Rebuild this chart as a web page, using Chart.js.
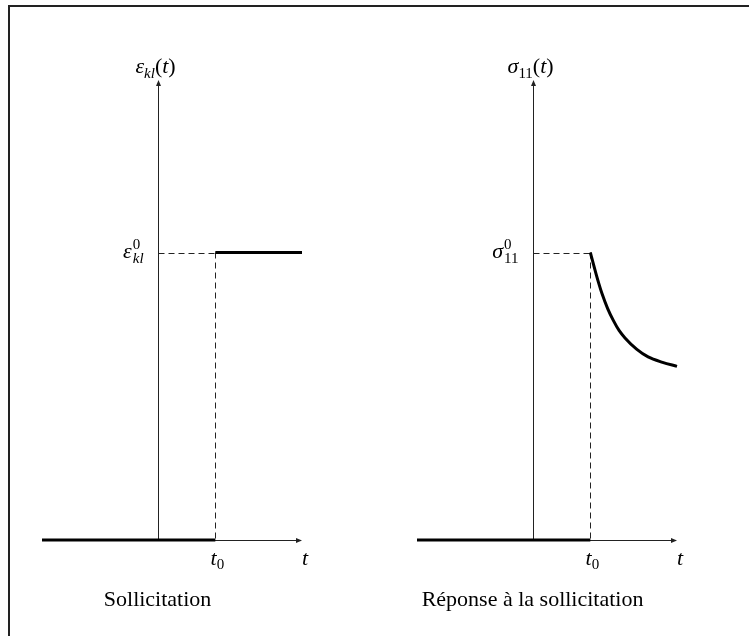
<!DOCTYPE html>
<html lang="fr">

<head>
    <meta charset="UTF-8">
    <title>Sollicitation et réponse</title>
    <script src="https://cdn.jsdelivr.net/npm/chart.js@4.4.1/dist/chart.umd.min.js"></script>
    <style>
        body { margin: 0; background: #fff; }
        #frame { position: absolute; left: 8px; top: 5px; width: 760px; height: 660px;
                 border-top: 2px solid #222; border-left: 2px solid #222; }
        canvas { position: absolute; left: 0; top: 0; }
    </style>
</head>

<body>
    <div id="frame"></div>
    <canvas id="left" width="749" height="636"></canvas>
    <canvas id="right" width="749" height="636"></canvas>
    <script>

        // axis ranges (time, response), t0 = 1
        const axisT = [-2, 2.5];
        const axisY = [0, 1.6];
        const t0 = 1;

        // sollicitation: step in strain
        const strainBeforeT = [-2, 1];
        const strainBeforeY = [0, 0];
        const strainAfterT = [1, 2.5];
        const strainAfterY = [1, 1];

        // response: stress relaxation
        const stressBeforeT = [-2, 1];
        const stressBeforeY = [0, 0];
        const stressAfterT = [1.0, 1.05, 1.1, 1.15, 1.2, 1.3, 1.4, 1.5, 1.6, 1.8, 2.0, 2.25, 2.5];
        const stressAfterY = [1.0, 0.962, 0.925, 0.89, 0.858, 0.805, 0.763, 0.728, 0.703, 0.664, 0.637, 0.618, 0.604];

        const SERIF = '"Liberation Serif", "Times New Roman", serif';

        function pts(xs, ys) {
            return xs.map((x, i) => ({ x: x, y: ys[i] }));
        }

        function font(it, size) {
            return (it ? 'italic ' : '') + size + 'px ' + SERIF;
        }

        // parts: {t, it, size, dy} or {sup, sub}
        function drawMath(ctx, parts, x, y, align) {
            let widths = parts.map(p => {
                if (p.sup !== undefined) {
                    ctx.font = font(false, 15);
                    let a = ctx.measureText(p.sup).width;
                    ctx.font = font(p.subIt, 15);
                    let b = ctx.measureText(p.sub).width;
                    return Math.max(a, b) + 1;
                }
                ctx.font = font(p.it, p.size);
                return ctx.measureText(p.t).width;
            });
            let total = widths.reduce((a, b) => a + b, 0);
            let cx = align === 'center' ? x - total / 2 : align === 'right' ? x - total : x;
            ctx.fillStyle = '#000';
            ctx.textAlign = 'left';
            ctx.textBaseline = 'alphabetic';
            parts.forEach((p, i) => {
                if (p.sup !== undefined) {
                    ctx.font = font(false, 15);
                    ctx.fillText(p.sup, cx + 1, y - 9);
                    ctx.font = font(p.subIt, 15);
                    ctx.fillText(p.sub, cx + 1, y + 5);
                } else {
                    ctx.font = font(p.it, p.size);
                    ctx.fillText(p.t, cx, y + (p.dy || 0));
                }
                cx += widths[i];
            });
        }

        function arrow(ctx, x, y, dir) {
            ctx.beginPath();
            if (dir === 'right') {
                ctx.moveTo(x, y);
                ctx.lineTo(x - 6, y - 2.5);
                ctx.lineTo(x - 6, y + 2.5);
            } else {
                ctx.moveTo(x, y);
                ctx.lineTo(x - 2.5, y + 6);
                ctx.lineTo(x + 2.5, y + 6);
            }
            ctx.closePath();
            ctx.fill();
        }

        const diagramPlugin = {
            id: 'diagram',
            beforeDatasetsDraw(chart) {
                const ctx = chart.ctx;
                const xs = chart.scales.x, ys = chart.scales.y;
                const x0 = xs.getPixelForValue(0), x1 = xs.getPixelForValue(t0);
                const xa = xs.getPixelForValue(axisT[0]), xb = xs.getPixelForValue(axisT[1]);
                const y0 = ys.getPixelForValue(0), y1 = ys.getPixelForValue(1);
                const yTop = ys.getPixelForValue(axisY[1]);
                ctx.save();
                ctx.strokeStyle = '#222';
                ctx.fillStyle = '#222';
                ctx.lineWidth = 1;
                // axes
                ctx.beginPath();
                ctx.moveTo(xa, Math.round(y0) + 0.5);
                ctx.lineTo(xb - 2, Math.round(y0) + 0.5);
                ctx.moveTo(Math.round(x0) + 0.5, y0);
                ctx.lineTo(Math.round(x0) + 0.5, yTop + 2);
                ctx.stroke();
                arrow(ctx, xb, Math.round(y0) + 0.5, 'right');
                arrow(ctx, Math.round(x0) + 0.5, yTop, 'up');
                // dashed guides
                ctx.setLineDash([6, 4]);
                ctx.beginPath();
                ctx.moveTo(Math.round(x0) + 0.5, Math.round(y1) + 0.5);
                ctx.lineTo(x1, Math.round(y1) + 0.5);
                ctx.moveTo(Math.round(x1) + 0.5, y1);
                ctx.lineTo(Math.round(x1) + 0.5, y0);
                ctx.stroke();
                ctx.restore();
            },
            afterDraw(chart, args, opts) {
                const ctx = chart.ctx;
                const xs = chart.scales.x, ys = chart.scales.y;
                const x0 = xs.getPixelForValue(0), x1 = xs.getPixelForValue(t0);
                const xb = xs.getPixelForValue(axisT[1]);
                const y0 = ys.getPixelForValue(0), y1 = ys.getPixelForValue(1);
                const yTop = ys.getPixelForValue(axisY[1]);
                ctx.save();
                drawMath(ctx, opts.yLabel, x0 - 2, yTop - 7, 'center');
                drawMath(ctx, opts.levelLabel, x0 - 14, y1 + 5, 'right');
                drawMath(ctx, [{ t: 't', it: true, size: 22 }, { t: '0', it: false, size: 15, dy: 4 }],
                    x1 + 2, y0 + 25, 'center');
                drawMath(ctx, [{ t: 't', it: true, size: 22 }], xb + 3, y0 + 25, 'center');
                ctx.font = font(false, 22);
                ctx.fillStyle = '#000';
                ctx.textAlign = 'center';
                ctx.fillText(opts.caption, x0, y0 + 66);
                ctx.restore();
            }
        };

        function makeChart(id, padLeft, padRight, before, after, labels) {
            return new Chart(document.getElementById(id), {
                type: 'line',
                data: {
                    datasets: [
                        { data: before, borderColor: '#000', borderWidth: 3, pointRadius: 0, clip: false },
                        { data: after, borderColor: '#000', borderWidth: 3, pointRadius: 0, clip: false,
                          cubicInterpolationMode: 'monotone' }
                    ]
                },
                options: {
                    responsive: false,
                    animation: false,
                    layout: { padding: { left: padLeft, right: padRight, top: 80, bottom: 96 } },
                    scales: {
                        x: { type: 'linear', min: axisT[0], max: axisT[1], display: false },
                        y: { type: 'linear', min: axisY[0], max: axisY[1], display: false }
                    },
                    plugins: {
                        legend: { display: false },
                        tooltip: { enabled: false },
                        diagram: labels
                    }
                },
                plugins: [diagramPlugin]
            });
        }

        makeChart('left', 42, 447,
            pts(strainBeforeT, strainBeforeY), pts(strainAfterT, strainAfterY), {
                yLabel: [{ t: 'ε', it: true, size: 22 }, { t: 'kl', it: true, size: 15, dy: 5 },
                         { t: '(', it: false, size: 22 }, { t: 't', it: true, size: 22 }, { t: ')', it: false, size: 22 }],
                levelLabel: [{ t: 'ε', it: true, size: 22 }, { sup: '0', sub: 'kl', subIt: true }],
                caption: 'Sollicitation'
            });

        makeChart('right', 417, 72,
            pts(stressBeforeT, stressBeforeY), pts(stressAfterT, stressAfterY), {
                yLabel: [{ t: 'σ', it: true, size: 22 }, { t: '11', it: false, size: 15, dy: 5 },
                         { t: '(', it: false, size: 22 }, { t: 't', it: true, size: 22 }, { t: ')', it: false, size: 22 }],
                levelLabel: [{ t: 'σ', it: true, size: 22 }, { sup: '0', sub: '11', subIt: false }],
                caption: 'Réponse à la sollicitation'
            });

    </script>
</body>

</html>
